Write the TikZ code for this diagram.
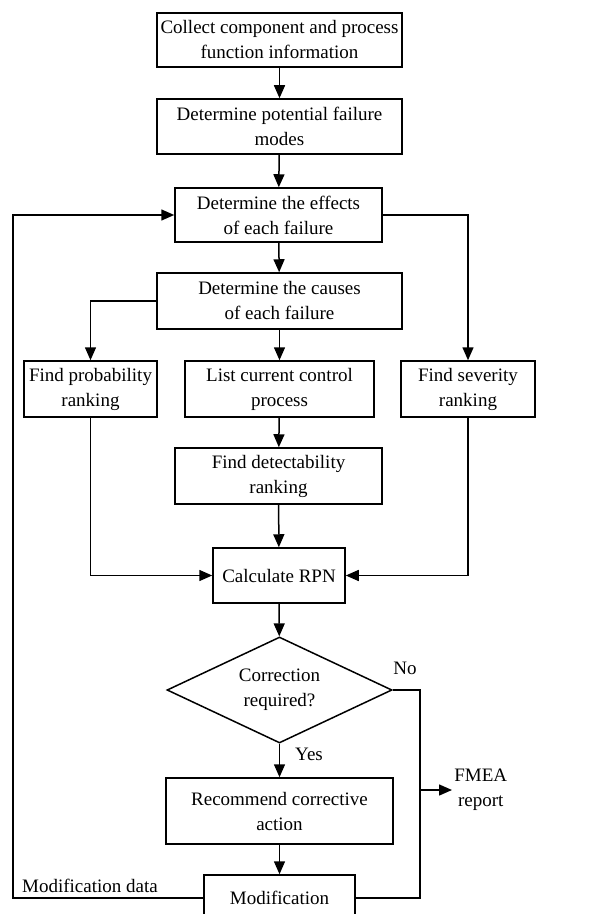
\documentclass[tikz,border=0pt]{standalone}
\usepackage{fontspec}
\setmainfont{Liberation Serif}
\usetikzlibrary{shapes.geometric,arrows.meta}

\begin{document}
\begin{tikzpicture}[x=0.5pt, y=-0.5pt,
  box/.style={rectangle, draw, line width=0.75pt, align=center, inner sep=1pt, font=\fontsize{9.5}{12.5}\selectfont},
  dec/.style={diamond, draw, line width=0.75pt, align=center, inner sep=0pt, aspect=2.1, font=\fontsize{9.5}{12.5}\selectfont},
  lbl/.style={align=center, inner sep=1pt, font=\fontsize{9.5}{12.5}\selectfont},
  arr/.style={-{Triangle[length=6.5pt,width=5.5pt]}, line width=0.75pt},
  line/.style={line width=0.75pt}]
\useasboundingbox (0,0) rectangle (609,914);
\clip (0,0) rectangle (609,914);

\node[box, minimum width=122.5pt, minimum height=27pt] (collect) at (279.5,40) {Collect component and process\\function information};
\node[box, minimum width=122.5pt, minimum height=27.5pt] (modes) at (279.5,126.5) {Determine potential failure\\modes};
\node[box, minimum width=103.5pt, minimum height=27pt] (effects) at (278.5,215) {Determine the effects\\of each failure};
\node[box, minimum width=122.5pt, minimum height=28pt] (causes) at (279.5,301) {Determine the causes\\of each failure};
\node[box, minimum width=66.5pt, minimum height=28pt] (prob) at (90.5,389) {Find probability\\ranking};
\node[box, minimum width=94.5pt, minimum height=28pt] (list) at (279.5,389) {List current control\\process};
\node[box, minimum width=67pt, minimum height=28pt] (sev) at (468,389) {Find severity\\ranking};
\node[box, minimum width=103.5pt, minimum height=28pt] (detect) at (278.5,476) {Find detectability\\ranking};
\node[box, minimum width=66pt, minimum height=27.5pt] (rpn) at (279,575.5) {Calculate RPN};
\node[dec, minimum width=112.5pt, minimum height=53pt] (decide) at (279.5,690) {Correction\\required?};
\node[box, minimum width=113.5pt, minimum height=33pt] (recommend) at (279.5,811) {Recommend corrective\\action};
\node[box, minimum width=75.5pt, minimum height=23pt] (modif) at (279.5,898) {Modification};

\node[lbl] (no) at (405,668) {No};
\node[lbl] (yes) at (309,754) {Yes};
\node[lbl, anchor=west] (report) at (452,790) {FMEA\\report};
\node[lbl] (moddata) at (90,886) {Modification data};

\coordinate (nox) at (420,0);
\coordinate (loopx) at (13,0);

\draw[arr] (collect) -- (modes);
\draw[arr] (modes) -- (effects);
\draw[arr] (effects) -- (causes);
\draw[arr] (causes) -- (list);
\draw[arr] (list) -- (detect);
\draw[arr] (detect) -- (rpn);
\draw[arr] (rpn) -- (decide);
\draw[arr] (decide) -- (recommend);
\draw[arr] (recommend) -- (modif);

\draw[arr] (causes.west) -| (prob.north);
\draw[arr] (effects.east) -| (sev.north);
\draw[arr] (prob.south) |- (rpn.west);
\draw[arr] (sev.south) |- (rpn.east);

\draw[line] (decide.east) -| (nox |- modif.east) -- (modif.east);
\draw[arr] (nox |- report.west) -- (report.west);
\draw[arr] (modif.west) -| (loopx |- effects.west) -- (effects.west);
\end{tikzpicture}
\end{document}
